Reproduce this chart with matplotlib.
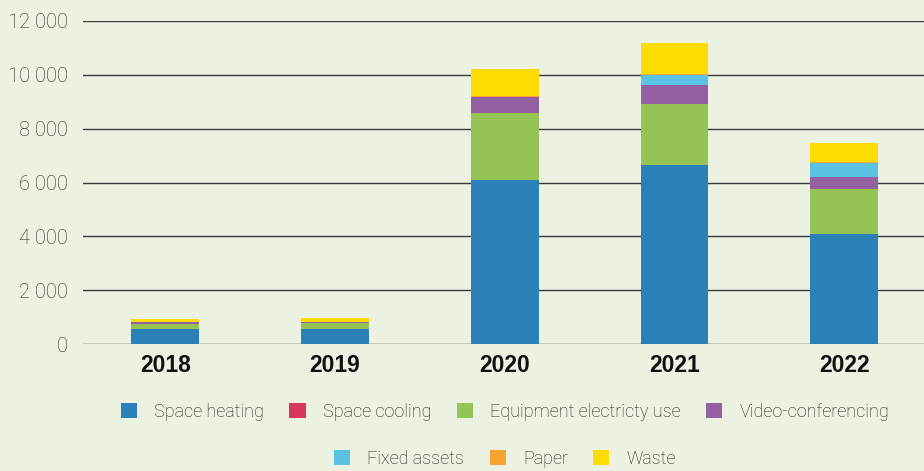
import matplotlib

matplotlib.use("Agg")
import matplotlib.pyplot as plt
import numpy as np
from matplotlib.patches import Patch

years = ["2018", "2019", "2020", "2021", "2022"]
space_heating = [545, 545, 6100, 6660, 4100]
space_cooling = [0, 0, 0, 0, 0]
equipment = [185, 235, 2490, 2260, 1640]
video_conf = [75, 25, 590, 710, 480]
fixed_assets = [0, 0, 0, 370, 490]
paper = [10, 10, 50, 40, 40]
waste = [100, 140, 990, 1150, 730]

series = [
    ("Space heating", space_heating, "#2c80b8"),
    ("Space cooling", space_cooling, "#d6375a"),
    ("Equipment electricty use", equipment, "#95c455"),
    ("Video-conferencing", video_conf, "#9360a1"),
    ("Fixed assets", fixed_assets, "#5bc3e2"),
    ("Paper", paper, "#f5a431"),
    ("Waste", waste, "#ffdc00"),
]

BG = "#ecf2e1"
NARROW = ["Roboto", "DejaVu Sans"]

fig = plt.figure(figsize=(9.24, 4.71), dpi=100, facecolor=BG)
ax = fig.add_axes([83 / 924, (471 - 344) / 471, 1 - 83 / 924, (344 - 21) / 471])
ax.set_facecolor(BG)

x = np.arange(len(years))
bottom = np.zeros(len(years))
for label, vals, color in series:
    ax.bar(x, vals, 0.4, bottom=bottom, color=color, zorder=2)
    bottom += np.array(vals)

ax.set_ylim(0, 12000)
ax.set_xlim(-0.485, 4.47)
ax.set_yticks(range(0, 12001, 2000))
ax.set_yticklabels(["0" if v == 0 else f"{v // 1000} 000" for v in range(0, 12001, 2000)],
                   family=NARROW, fontweight="light", fontsize=14.5, color="#2a2a2a")
ax.set_xticks(x)
ax.set_xticklabels(years, family="Liberation Sans", fontweight="bold", fontsize=16.5, color="#111111")
ax.tick_params(axis="both", length=0)
ax.tick_params(axis="y", pad=11)
ax.tick_params(axis="x", pad=7)
ax.grid(True, axis="y", color="#3a3a3a", linewidth=1.0, zorder=1)
ax.set_axisbelow(True)
for s in ax.spines.values():
    s.set_visible(False)

handles = [Patch(facecolor=c, edgecolor="none", label=l) for l, _, c in series]
leg_kw = dict(frameon=False, handlelength=0.9, handleheight=0.9, handletextpad=0.95,
              columnspacing=1.4, borderaxespad=0, borderpad=0,
              prop={"family": NARROW, "size": 13, "weight": "light"})
leg1 = fig.legend(handles=handles[:4], ncol=4, loc="center",
                  bbox_to_anchor=(505 / 924, (471 - 412) / 471), **leg_kw)
for t in leg1.get_texts():
    t.set_color("#1e1e1e")
leg2 = fig.legend(handles=handles[4:], ncol=3, loc="center",
                  bbox_to_anchor=(505 / 924, (471 - 459) / 471), **leg_kw)
for t in leg2.get_texts():
    t.set_color("#1e1e1e")

fig.savefig("out.png", dpi=100, facecolor=BG)
